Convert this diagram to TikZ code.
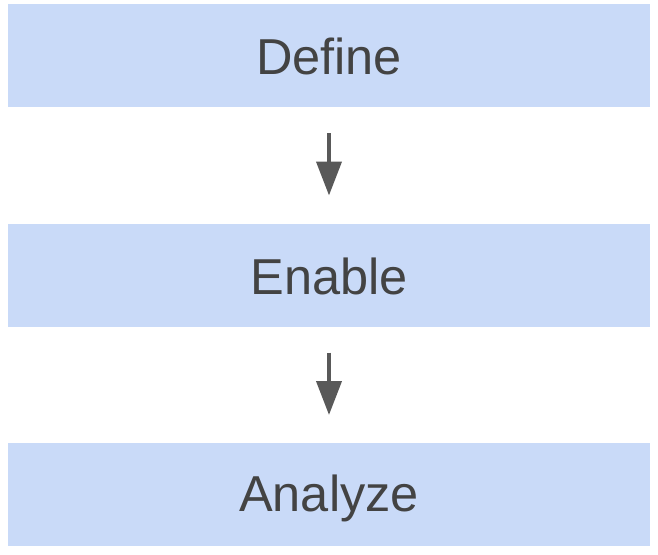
\documentclass[tikz,border=0pt]{standalone}
\usepackage{fontspec}
\setmainfont{Liberation Sans}
\usetikzlibrary{arrows.meta}
\definecolor{boxfill}{HTML}{C9DAF8}
\definecolor{txt}{HTML}{434343}
\definecolor{arrowc}{HTML}{595959}
\begin{document}
\begin{tikzpicture}[x=1pt,y=-1pt,
  stage/.style={rectangle,fill=boxfill,draw=none,minimum width=642pt,minimum height=103pt,inner sep=0pt,outer sep=0pt,text=txt,font=\fontsize{50.5}{56}\selectfont,text height=38pt,text depth=0pt},
  flowarrow/.style={draw=arrowc,line width=4pt,-{Triangle[width=25pt,length=34pt]},shorten <=26pt,shorten >=28pt}]
\useasboundingbox (0,0) rectangle (658,554);
\node[stage] (define) at (329,55.5) {Define};
\node[stage] (enable) at (329,275) {Enable};
\node[stage,text depth=4pt] (analyze) at (329,494.5) {Analyze};
\draw[flowarrow] (define) -- (enable);
\draw[flowarrow] (enable) -- (analyze);
\end{tikzpicture}
\end{document}
